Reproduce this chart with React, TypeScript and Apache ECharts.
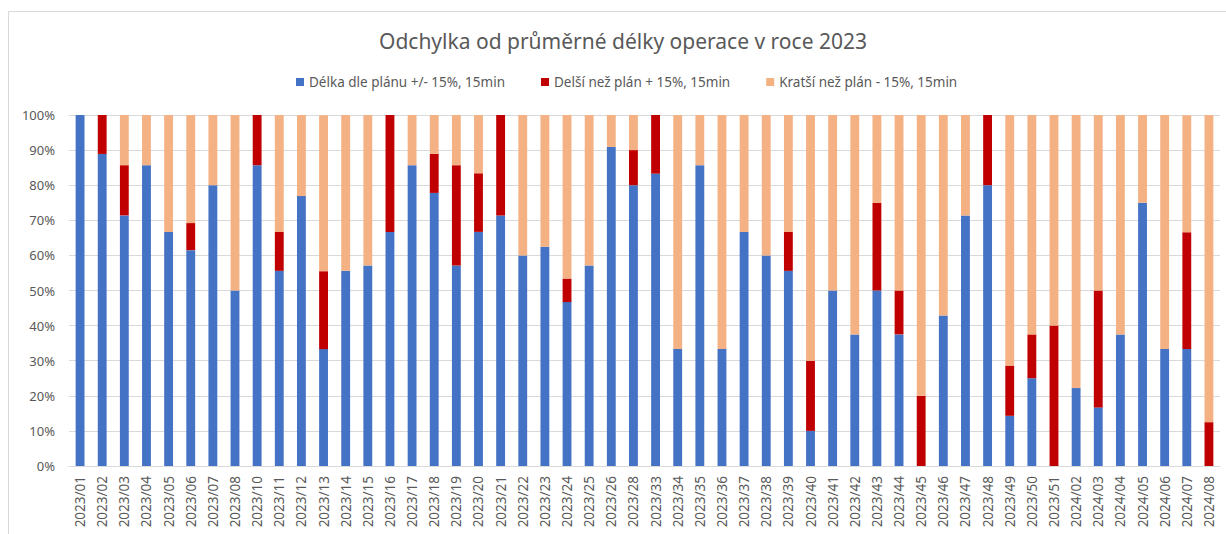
import React, { useEffect, useRef } from "react";
import * as echarts from "echarts";

const categories = [
  "2023/01", "2023/02", "2023/03", "2023/04", "2023/05", "2023/06", "2023/07", "2023/08",
  "2023/10", "2023/11", "2023/12", "2023/13", "2023/14", "2023/15", "2023/16", "2023/17",
  "2023/18", "2023/19", "2023/20", "2023/21", "2023/22", "2023/23", "2023/24", "2023/25",
  "2023/26", "2023/28", "2023/33", "2023/34", "2023/35", "2023/36", "2023/37", "2023/38",
  "2023/39", "2023/40", "2023/41", "2023/42", "2023/43", "2023/44", "2023/45", "2023/46",
  "2023/47", "2023/48", "2023/49", "2023/50", "2023/51", "2024/02", "2024/03", "2024/04",
  "2024/05", "2024/06", "2024/07", "2024/08",
];

const onPlan = [
  100, 88.9, 71.4, 85.7, 66.7, 61.5, 80, 50,
  85.7, 55.6, 76.9, 33.3, 55.6, 57.1, 66.7, 85.7,
  77.8, 57.1, 66.7, 71.4, 60, 62.5, 46.7, 57.1,
  90.9, 80, 83.3, 33.3, 85.7, 33.3, 66.7, 60,
  55.6, 10, 50, 37.5, 50, 37.5, 0, 42.9,
  71.4, 80, 14.3, 25, 0, 22.2, 16.7, 37.5,
  75, 33.3, 33.3, 0,
];

const longer = [
  0, 11.1, 14.3, 0, 0, 7.7, 0, 0,
  14.3, 11.1, 0, 22.2, 0, 0, 33.3, 0,
  11.1, 28.6, 16.7, 28.6, 0, 0, 6.7, 0,
  0, 10, 16.7, 0, 0, 0, 0, 0,
  11.1, 20, 0, 0, 25, 12.5, 20, 0,
  0, 20, 14.3, 12.5, 40, 0, 33.3, 0,
  0, 0, 33.3, 12.5,
];

const shorter = [
  0, 0, 14.3, 14.3, 33.3, 30.8, 20, 50,
  0, 33.3, 23.1, 44.4, 44.4, 42.9, 0, 14.3,
  11.1, 14.3, 16.7, 0, 40, 37.5, 46.7, 42.9,
  9.1, 10, 0, 66.7, 14.3, 66.7, 33.3, 40,
  33.3, 70, 50, 62.5, 25, 50, 80, 57.1,
  28.6, 0, 71.4, 62.5, 60, 77.8, 50, 62.5,
  25, 66.7, 33.3, 87.5,
];

const yTicks = [0, 10, 20, 30, 40, 50, 60, 70, 80, 90, 100];

const seriesNames = [
  "Délka dle plánu +/- 15%, 15min",
  "Delší než plán + 15%, 15min",
  "Kratší než plán - 15%, 15min",
];
const seriesColors = ["#4472C4", "#C00000", "#F4B183"];

const FONT = "'Noto Sans', sans-serif";

export default function App() {
  const ref = useRef<HTMLDivElement>(null);
  useEffect(() => {
    if (!ref.current) return;
    const chart = echarts.init(ref.current, null, { renderer: "svg" });
    const datasets = [onPlan, longer, shorter];
    chart.setOption({
      animation: false,
      backgroundColor: "#ffffff",
      textStyle: { fontFamily: FONT },
      graphic: [
        {
          type: "rect",
          shape: { x: 8.5, y: 11.5, width: 1400, height: 700 },
          style: { fill: "none", stroke: "#d9d9d9", lineWidth: 1 },
          silent: true,
        },
      ],
      title: {
        text: "Odchylka od průměrné délky operace v roce 2023",
        left: 374,
        top: 25,
        textStyle: { fontFamily: FONT, fontSize: 21, fontWeight: "normal", color: "#595959" },
      },
      legend: {
        top: 70,
        left: 291,
        itemWidth: 8,
        itemHeight: 8,
        itemGap: 36,
        icon: "rect",
        textStyle: { fontFamily: FONT, fontSize: 13.5, color: "#595959" },
        data: seriesNames,
      },
      grid: { left: 69, right: 6, top: 115, bottom: 68, containLabel: false },
      xAxis: {
        type: "category",
        data: categories,
        axisLine: { lineStyle: { color: "#d9d9d9" } },
        axisTick: { show: false },
        axisLabel: {
          rotate: 90,
          interval: 0,
          margin: 10,
          fontFamily: FONT,
          fontSize: 13.5,
          color: "#595959",
        },
      },
      yAxis: {
        type: "value",
        min: yTicks[0],
        max: yTicks[yTicks.length - 1],
        interval: 10,
        axisLine: { show: false },
        axisTick: { show: false },
        splitLine: { lineStyle: { color: "#d9d9d9" } },
        axisLabel: {
          formatter: "{value}%",
          margin: 14,
          fontFamily: FONT,
          fontSize: 13,
          color: "#595959",
        },
      },
      series: datasets.map((d, i) => ({
        name: seriesNames[i],
        type: "bar",
        stack: "total",
        barWidth: "40%",
        data: d,
        itemStyle: { color: seriesColors[i] },
      })),
    });
    return () => chart.dispose();
  }, []);
  return (
    <div
      ref={ref}
      style={{ position: "absolute", left: 0, top: 0, width: 1226, height: 534 }}
    />
  );
}
